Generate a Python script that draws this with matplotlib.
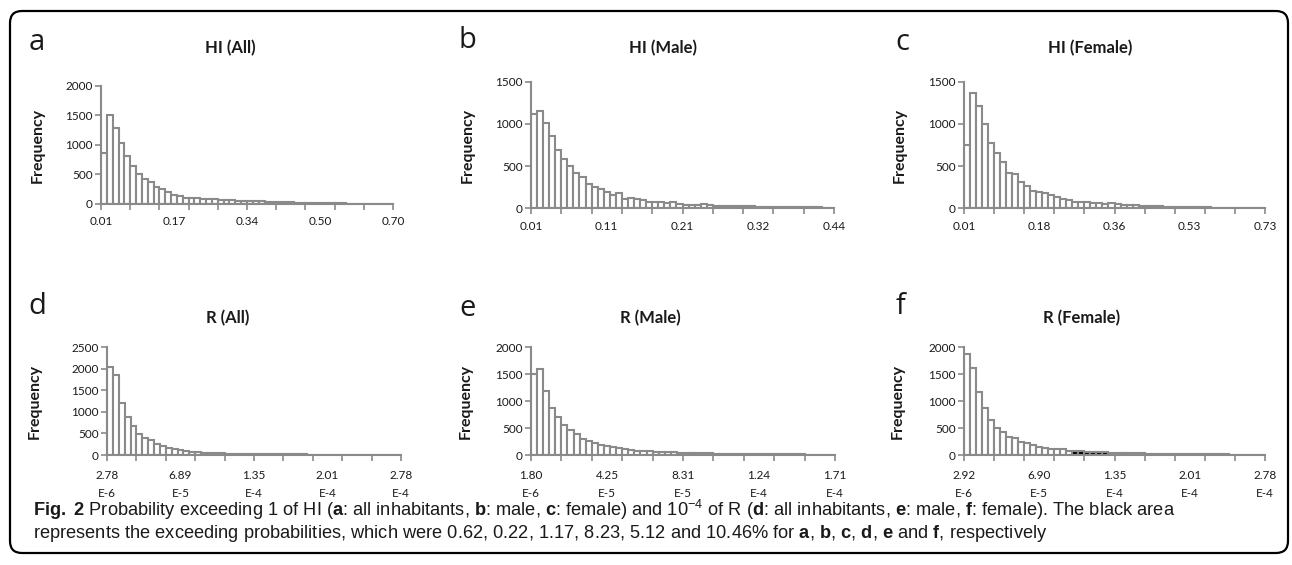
import matplotlib
matplotlib.use("Agg")
import matplotlib.pyplot as plt
import numpy as np
from matplotlib.patches import FancyBboxPatch

# ---------------- data ----------------
titles = ["HI (All)", "HI (Male)", "HI (Female)", "R (All)", "R (Male)", "R (Female)"]
panel_letters = ["a", "b", "c", "d", "e", "f"]

hi_all = [856, 1504, 1296, 1037, 811, 642, 513, 428, 377, 293, 248, 197, 158, 135, 107, 100, 96, 90, 85, 80,
          72, 68, 62, 58, 55, 50, 46, 50, 40, 36, 32, 38, 28, 24, 20, 22, 16, 14, 12, 12,
          10, 9, 8, 8, 7, 6, 6, 5, 5, 4]
hi_male = [1117, 1149, 1014, 860, 695, 580, 501, 418, 371, 292, 257, 229, 189, 158, 178, 110, 126, 115, 99, 80,
           75, 72, 60, 78, 52, 45, 42, 45, 50, 40, 28, 25, 22, 25, 28, 25, 22, 20, 18, 16,
           15, 18, 12, 10, 12, 14, 12, 10, 8, 6]
hi_female = [750, 1370, 1210, 1000, 770, 660, 550, 420, 410, 310, 260, 200, 190, 180, 160, 135, 115, 95, 80, 75,
             70, 65, 60, 55, 65, 52, 45, 40, 35, 30, 25, 28, 22, 20, 18, 15, 14, 16, 12, 10,
             10, 9, 8, 8, 7, 6, 6, 5, 5, 4]
r_all = [2051, 1850, 1200, 882, 681, 495, 387, 341, 263, 209, 163, 139, 116, 93, 77, 62, 54, 46, 39, 36,
         32, 30, 28, 26, 24, 22, 20, 18, 17, 16, 15, 14, 13, 12, 11, 10, 10, 9, 9, 8,
         8, 7, 7, 6, 6, 5, 5, 5, 4, 4]
r_male = [1498, 1598, 1189, 879, 712, 551, 471, 384, 297, 260, 223, 192, 173, 149, 124, 111, 99, 80, 74, 68,
          62, 58, 52, 48, 44, 40, 37, 34, 31, 29, 27, 25, 23, 22, 20, 19, 18, 16, 15, 14,
          13, 12, 11, 10, 10, 9, 8, 8, 7, 6]
r_female = [1870, 1616, 1176, 867, 650, 508, 427, 341, 310, 248, 217, 192, 142, 136, 118, 111, 105, 80, 74, 68,
            62, 58, 54, 50, 46, 42, 38, 34, 31, 28, 26, 24, 22, 20, 19, 18, 17, 16, 15, 14,
            13, 12, 11, 10, 9, 9, 8, 7, 7, 6]
series = [hi_all, hi_male, hi_female, r_all, r_male, r_female]

# first bin index that lies above the threshold (black area)
exceed_from = [44, 47, 40, 19, 25, 18]

y_max = [2000, 1500, 1500, 2500, 2000, 2000]

xlabels_a = ["0.01", "0.17", "0.34", "0.50", "0.70"]
xlabels_b = ["0.01", "0.11", "0.21", "0.32", "0.44"]
xlabels_c = ["0.01", "0.18", "0.36", "0.53", "0.73"]
xlabels_d = ["2.78\nE-6", "6.89\nE-5", "1.35\nE-4", "2.01\nE-4", "2.78\nE-4"]
xlabels_e = ["1.80\nE-6", "4.25\nE-5", "8.31\nE-5", "1.24\nE-4", "1.71\nE-4"]
xlabels_f = ["2.92\nE-6", "6.90\nE-5", "1.35\nE-4", "2.01\nE-4", "2.78\nE-4"]
xlabels = [xlabels_a, xlabels_b, xlabels_c, xlabels_d, xlabels_e, xlabels_f]

caption_1 = (r"$\mathbf{Fig.\ 2}$ Probability exceeding 1 of HI ($\mathbf{a}$: all inhabitants, "
             r"$\mathbf{b}$: male, $\mathbf{c}$: female) and 10$^{\mathregular{-4}}$ of R ($\mathbf{d}$: all "
             r"inhabitants, $\mathbf{e}$: male, $\mathbf{f}$: female). The black area")
caption_2 = (r"represents the exceeding probabilities, which were 0.62, 0.22, 1.17, 8.23, 5.12 and 10.46% for "
             r"$\mathbf{a}$, $\mathbf{b}$, $\mathbf{c}$, $\mathbf{d}$, $\mathbf{e}$ and $\mathbf{f}$, respectively")

# ---------------- style ----------------
W, H = 1292, 565
plt.rcParams["font.family"] = ["Lato", "DejaVu Sans"]
plt.rcParams["mathtext.fontset"] = "custom"
plt.rcParams["mathtext.rm"] = "Liberation Sans"
plt.rcParams["mathtext.bf"] = "Liberation Sans:bold"
plt.rcParams["mathtext.it"] = "Liberation Sans:italic"

GRAY = "#8a8a8a"
TXT = "#1a1a1a"

fig = plt.figure(figsize=(W / 100, H / 100), dpi=100)

# axes boxes in pixels: (left, right, top, bottom)
boxes = [(101, 393, 86, 204), (531, 834, 81.7, 208.3), (964, 1265, 81.7, 208.3),
         (107, 401, 347.3, 455), (531, 835, 347.3, 455), (964, 1265, 347.3, 455)]
title_pos = [(230, 48), (663, 48), (1090, 48), (228, 318), (650, 318), (1082, 318)]
letter_pos = [(37, 42), (467, 40), (902, 42), (37, 306), (468, 308), (900, 306)]
ylabel_x = [45, 475, 907, 42, 473, 905]
xlabel_pad = [9, 9, 9, 11, 11, 11]

for i in range(6):
    l, r, t, b = boxes[i]
    ax = fig.add_axes([l / W, 1 - b / H, (r - l) / W, (b - t) / H])
    vals = np.array(series[i], dtype=float)
    n = len(vals)
    x = np.arange(n) + 0.5
    faces = ["white" if k < exceed_from[i] else "black" for k in range(n)]
    ax.bar(x, vals, width=1.0, color=faces, edgecolor=GRAY, linewidth=1.5, zorder=2)
    ax.set_xlim(0, n)
    ax.set_ylim(0, y_max[i])
    ax.set_yticks(np.arange(0, y_max[i] + 1, 500))
    ax.tick_params(axis="y", direction="out", length=4, width=1.2, color=GRAY,
                   labelsize=8.5, labelcolor=TXT, pad=2)
    ax.xaxis.remove_overlapping_locs = False
    ax.set_xticks(np.linspace(0, n, 5))
    ax.set_xticklabels(xlabels[i], fontsize=8.5, color=TXT, linespacing=1.7)
    ax.tick_params(axis="x", which="major", length=0, pad=xlabel_pad[i])
    ax.set_xticks(np.arange(0, n + 1, 5), minor=True)
    ax.tick_params(axis="x", which="minor", direction="out", length=4, width=1.2, color=GRAY)
    for s in ["top", "right"]:
        ax.spines[s].set_visible(False)
    for s in ["left", "bottom"]:
        ax.spines[s].set_color(GRAY)
        ax.spines[s].set_linewidth(1.5)
    ax.set_ylabel("Frequency", fontsize=11.5, fontweight="bold", color=TXT)
    ax.yaxis.set_label_coords((ylabel_x[i] - l) / (r - l), 0.5)
    ax.set_facecolor("none")

    tx, ty = title_pos[i]
    fig.text(tx / W, 1 - ty / H, titles[i], fontsize=12, fontweight="bold", color=TXT,
             ha="center", va="center")
    lx, ly = letter_pos[i]
    fig.text(lx / W, 1 - ly / H, panel_letters[i], fontsize=21, color=TXT, ha="center", va="center",
             family=["Open Sans", "DejaVu Sans"])

# caption
cap_font = ["Liberation Sans", "DejaVu Sans"]
t1 = fig.text(33 / W, 1 - 510 / H, caption_1, fontsize=12, color=TXT, ha="left", va="center", family=cap_font)
t2 = fig.text(33 / W, 1 - 533 / H, caption_2, fontsize=12, color=TXT, ha="left", va="center", family=cap_font)
fig.canvas.draw()
w1 = t1.get_window_extent().width
scale = (1176 - 33) / w1
t1.set_fontsize(12 * scale)
t2.set_fontsize(12 * scale)

# rounded frame
frame = FancyBboxPatch((10, H - 553), 1278, 542, boxstyle="round,pad=0,rounding_size=12",
                       transform=None, fill=False, linewidth=1.6, edgecolor="black")
fig.patches.append(frame)

fig.savefig("out.png", dpi=100)
